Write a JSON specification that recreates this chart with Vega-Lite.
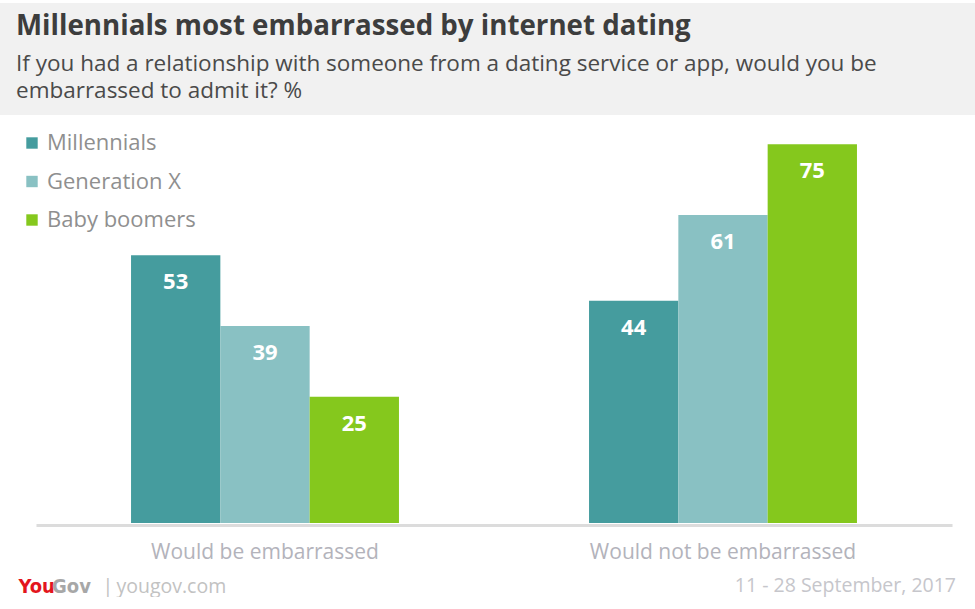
{
  "$schema": "https://vega.github.io/schema/vega-lite/v6.json",
  "background": "white",
  "padding": {"top": 3, "left": 0, "right": 0, "bottom": 0},
  "autosize": {"type": "pad"},
  "columns": 1,
  "align": "none",
  "spacing": 4,
  "config": {"font": "Open Sans", "view": {"stroke": null}},
  "resolve": {"scale": {"color": "independent"}, "legend": {"color": "independent"}},
  "title": {
    "text": "11 - 28 September, 2017",
    "orient": "bottom",
    "anchor": "end",
    "baseline": "alphabetic",
    "offset": -5,
    "dx": -19,
    "font": "Open Sans",
    "fontSize": 19.5,
    "fontWeight": "normal",
    "color": "#c6c6cb"
  },
  "concat": [
    {
      "width": 975,
      "height": 112,
      "view": {"fill": "#f1f1f1", "stroke": null},
      "data": {"values": [{"t": ""}]},
      "mark": {"type": "text"},
      "encoding": {"text": {"field": "t"}},
      "title": {
        "text": "Millennials most embarrassed by internet dating",
        "subtitle": ["If you had a relationship with someone from a dating service or app, would you be", "embarrassed to admit it? %"],
        "orient": "top",
        "anchor": "start",
        "frame": "group",
        "offset": -99.5,
        "dx": 16,
        "font": "Open Sans",
        "fontSize": 27.7,
        "fontWeight": "bold",
        "color": "#3d3d3d",
        "subtitleFont": "Open Sans",
        "subtitleFontSize": 22.5,
        "subtitleColor": "#4a4a4a",
        "subtitleLineHeight": 27.5,
        "subtitlePadding": 11.8
      }
    },
    {
      "width": 975,
      "height": 404,
      "data": {
        "values": [
          {"response": "Would be embarrassed", "generation": "Millennials", "pct": 53},
          {"response": "Would be embarrassed", "generation": "Generation X", "pct": 39},
          {"response": "Would be embarrassed", "generation": "Baby boomers", "pct": 25},
          {"response": "Would not be embarrassed", "generation": "Millennials", "pct": 44},
          {"response": "Would not be embarrassed", "generation": "Generation X", "pct": 61},
          {"response": "Would not be embarrassed", "generation": "Baby boomers", "pct": 75}
        ]
      },
      "title": {
        "text": "Gov",
        "orient": "bottom",
        "anchor": "start",
        "frame": "group",
        "baseline": "alphabetic",
        "offset": -3,
        "dx": 52,
        "font": "DejaVu Sans Condensed",
        "fontSize": 20,
        "fontWeight": "bold",
        "color": "#a7a7a7"
      },
      "encoding": {
        "x": {
          "field": "response",
          "type": "nominal",
          "sort": ["Would be embarrassed", "Would not be embarrassed"],
          "scale": {"range": [36, 952], "paddingInner": 0.415, "paddingOuter": 0.2075},
          "axis": {
            "labelAngle": 0,
            "ticks": false,
            "tickSize": 0,
            "offset": 2,
            "domainColor": "#dcdcdc",
            "domainWidth": 3,
            "labelPadding": 16,
            "labelLimit": 0,
            "labelFont": "Open Sans",
            "labelFontSize": 21,
            "labelColor": "#b3b3bb",
            "title": "|\u2009yougov.com",
            "titleX": 102,
            "titleY": 67,
            "titleAlign": "left",
            "titleBaseline": "alphabetic",
            "titleFont": "Open Sans",
            "titleFontSize": 19.5,
            "titleFontWeight": "normal",
            "titleColor": "#c2c2c2"
          }
        },
        "xOffset": {
          "field": "generation",
          "type": "nominal",
          "sort": ["Millennials", "Generation X", "Baby boomers"],
          "scale": {"paddingInner": 0, "paddingOuter": 0}
        },
        "y": {
          "field": "pct",
          "type": "quantitative",
          "scale": {"domain": [0, 80]},
          "axis": {
            "labels": false,
            "ticks": false,
            "domain": false,
            "grid": false,
            "title": "You",
            "titleAngle": 0,
            "titleX": 18,
            "titleY": 473,
            "titleAlign": "left",
            "titleBaseline": "alphabetic",
            "titleFont": "DejaVu Sans Condensed",
            "titleFontSize": 20,
            "titleFontWeight": "bold",
            "titleColor": "#e3151d"
          }
        }
      },
      "layer": [
        {
          "mark": {"type": "bar"},
          "encoding": {
            "color": {
              "field": "generation",
              "type": "nominal",
              "sort": ["Millennials", "Generation X", "Baby boomers"],
              "scale": {"domain": ["Millennials", "Generation X", "Baby boomers"], "range": ["#459c9e", "#89c1c3", "#85c81d"]},
              "legend": {
                "title": null,
                "orient": "none",
                "legendX": 21,
                "legendY": 13,
                "padding": 0,
                "symbolType": "square",
                "symbolSize": 130,
                "symbolStrokeWidth": 0,
                "labelFont": "Open Sans",
                "labelFontSize": 22,
                "labelColor": "#8f8f8f",
                "labelOffset": 4,
                "rowPadding": 16.5
              }
            }
          }
        },
        {
          "mark": {"type": "text", "baseline": "middle", "dy": 27, "color": "white", "font": "Open Sans", "fontSize": 22, "fontWeight": "bold"},
          "encoding": {"text": {"field": "pct", "type": "quantitative"}}
        }
      ]
    }
  ]
}
